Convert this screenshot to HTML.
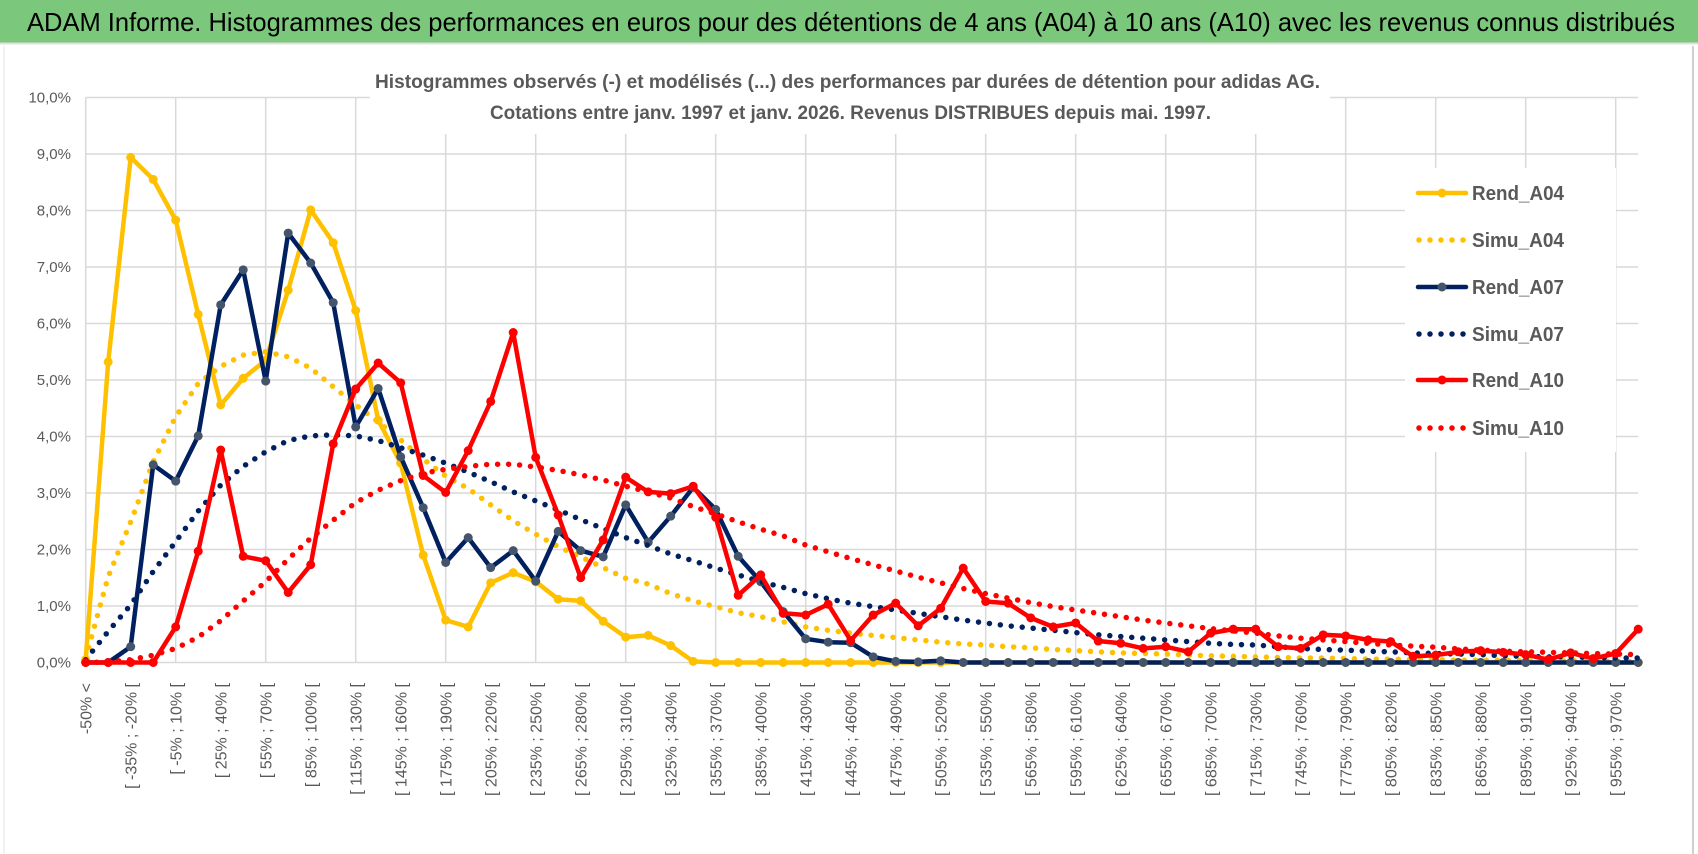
<!DOCTYPE html>
<html><head><meta charset="utf-8"><style>
html,body{margin:0;padding:0;background:#fff;}
svg{display:block;font-family:"Liberation Sans Narrow","Liberation Sans",sans-serif;}
</style></head><body>
<svg id="chart" width="1698" height="854" viewBox="0 0 1698 854" xmlns="http://www.w3.org/2000/svg">
<rect x="0" y="0" width="1698" height="854" fill="#fff"/>
<rect x="0" y="0" width="1698" height="43" fill="#7BC87C"/>
<line x1="0" y1="43.5" x2="1698" y2="43.5" stroke="#e0e0e0" stroke-width="2"/>
<text x="27" y="31" font-size="26" fill="#000" textLength="1648" lengthAdjust="spacingAndGlyphs">ADAM Informe. Histogrammes des performances en euros pour des détentions de 4 ans (A04) à 10 ans (A10) avec les revenus connus distribués</text>
<line x1="1693" y1="46" x2="1693" y2="854" stroke="#bfbfbf" stroke-width="1.5"/>
<line x1="4" y1="46" x2="4" y2="854" stroke="#e6e6e6" stroke-width="1"/>
<g id="grid"></g>
<rect x="370" y="64" width="960" height="70" fill="#fff"/>
<rect x="1405" y="168" width="211" height="284" fill="#fff"/>
<g id="yaxis"></g>
<g id="xaxis"></g>
<g id="series"></g>
<text x="375" y="88" font-size="19" font-weight="bold" fill="#595959" textLength="945" lengthAdjust="spacingAndGlyphs">Histogrammes observés (-) et modélisés (...) des performances par durées de détention pour adidas AG.</text>
<text x="490" y="119" font-size="19" font-weight="bold" fill="#595959" textLength="721" lengthAdjust="spacingAndGlyphs">Cotations entre janv. 1997 et janv. 2026. Revenus DISTRIBUES depuis mai. 1997.</text>
<g id="legend"></g>
</svg>
<script>
const rendA04 = [0.05,5.32,8.94,8.55,7.83,6.16,4.56,5.03,5.35,6.59,8.01,7.43,6.23,4.29,3.53,1.90,0.75,0.63,1.41,1.59,1.43,1.12,1.09,0.73,0.45,0.48,0.30,0.02,0,0,0,0,0,0,0,0,0,0,0,0,0,0,0,0,0,0,0,0,0,0,0,0,0,0,0,0,0,0,0,0,0,0,0,0,0,0,0,0,0,0];
const simuA04 = [0.08,1.52,2.49,3.55,4.35,4.94,5.24,5.44,5.50,5.41,5.21,4.88,4.56,4.26,3.94,3.60,3.30,3.08,2.79,2.51,2.27,2.05,1.87,1.68,1.49,1.39,1.22,1.09,0.99,0.88,0.81,0.72,0.63,0.57,0.52,0.48,0.44,0.40,0.36,0.33,0.31,0.28,0.26,0.23,0.21,0.19,0.17,0.16,0.15,0.13,0.12,0.11,0.10,0.09,0.08,0.08,0.07,0.06,0.06,0.05,0.05,0.04,0.04,0.04,0.03,0.03,0.03,0.03,0.02,0.02];
const rendA07 = [0,0,0.28,3.50,3.21,4.01,6.33,6.95,4.98,7.60,7.07,6.37,4.17,4.85,3.64,2.74,1.77,2.21,1.68,1.98,1.44,2.32,1.98,1.87,2.79,2.13,2.59,3.10,2.71,1.88,1.43,0.90,0.42,0.36,0.35,0.10,0.02,0.01,0.03,0,0,0,0,0,0,0,0,0,0,0,0,0,0,0,0,0,0,0,0,0,0,0,0,0,0,0,0,0,0,0];
const simuA07 = [0.05,0.55,1.02,1.61,2.14,2.68,3.14,3.47,3.73,3.93,4.01,4.03,4.01,3.93,3.80,3.67,3.53,3.37,3.20,3.02,2.86,2.70,2.53,2.37,2.21,2.07,1.92,1.80,1.67,1.55,1.43,1.33,1.22,1.13,1.05,0.99,0.93,0.87,0.81,0.75,0.70,0.65,0.61,0.57,0.53,0.49,0.46,0.43,0.40,0.37,0.34,0.32,0.31,0.28,0.25,0.23,0.22,0.20,0.19,0.17,0.16,0.15,0.14,0.12,0.11,0.10,0.10,0.09,0.08,0.08];
const rendA10 = [0,0,0,0,0.63,1.97,3.76,1.88,1.80,1.24,1.73,3.87,4.84,5.30,4.95,3.31,3.01,3.75,4.62,5.84,3.63,2.61,1.50,2.17,3.28,3.02,2.99,3.12,2.57,1.19,1.55,0.87,0.84,1.03,0.39,0.84,1.05,0.65,0.96,1.67,1.08,1.05,0.79,0.63,0.70,0.38,0.34,0.25,0.28,0.19,0.52,0.59,0.59,0.28,0.25,0.49,0.47,0.40,0.37,0.11,0.13,0.19,0.21,0.18,0.14,0.05,0.17,0.07,0.16,0.59];
const simuA10 = [0,0.01,0.05,0.13,0.25,0.45,0.74,1.09,1.43,1.83,2.20,2.52,2.83,3.05,3.22,3.35,3.42,3.47,3.51,3.51,3.46,3.40,3.32,3.23,3.12,3.02,2.91,2.76,2.63,2.49,2.36,2.24,2.08,1.96,1.84,1.73,1.62,1.51,1.41,1.31,1.22,1.14,1.06,0.99,0.93,0.87,0.81,0.75,0.70,0.65,0.60,0.56,0.52,0.47,0.43,0.40,0.37,0.34,0.31,0.29,0.27,0.24,0.22,0.20,0.19,0.18,0.17,0.16,0.15,0.14];
const yTicks = [0,1,2,3,4,5,6,7,8,9,10];
const seriesNames = ["Rend_A04","Simu_A04","Rend_A07","Simu_A07","Rend_A10","Simu_A10"];

const NS = "http://www.w3.org/2000/svg";
const N = rendA04.length;
function catLabel(i){
  if(i===0) return "-50% <";
  const a=-50+15*(i-1), b=a+15;
  return "[ "+a+"% ; "+b+"% [";
}
const categories = Array.from({length:N},(_, i)=>catLabel(i));
const X0=85.7, DX=22.5, Y0=662.5, DY=56.5;
function xs(i){return X0+DX*i;}
function ys(v){return Y0-DY*v;}
function mk(tag,attrs,parent){const e=document.createElementNS(NS,tag);for(const k in attrs)e.setAttribute(k,attrs[k]);parent.appendChild(e);return e;}

const grid=document.getElementById('grid');
const xEnd=xs(N-1);
yTicks.forEach(t=>{
  const l=mk('line',{x1:X0,x2:xEnd,y1:ys(t),y2:ys(t),stroke:'#d9d9d9','stroke-width':1.5},grid);
  
  
});
for(let i=0;i<N;i+=4){
  const l=mk('line',{x1:xs(i),x2:xs(i),y1:ys(10),y2:ys(0),stroke:'#d9d9d9','stroke-width':1.5},grid);
  
  
}
const yaxis=document.getElementById('yaxis');
yTicks.forEach(t=>{
  const tx=mk('text',{x:71,y:ys(t)+5,'font-size':15,fill:'#595959','text-anchor':'end'},yaxis);
  tx.textContent=t.toFixed(1).replace('.',',')+'%';
  
  
});
const xaxis=document.getElementById('xaxis');
for(let i=0;i<N;i+=2){
  const tx=mk('text',{x:0,y:0,'font-size':16,fill:'#595959','text-anchor':'end',transform:'translate('+(xs(i)+6)+',683) rotate(-90)'},xaxis);
  tx.textContent=categories[i];
  
  
}
const series=document.getElementById('series');
function pts(arr){return arr.map((v,i)=>xs(i).toFixed(1)+','+ys(v).toFixed(1)).join(' ');}
function solid(arr,color,mcolor,name){
  const g=mk('g',{},series);
  
  
  const p=mk('polyline',{points:pts(arr),fill:'none',stroke:color,'stroke-width':4.5,'stroke-linejoin':'round','stroke-linecap':'round'},g);
  
  
  arr.forEach((v,i)=>{
    const c=mk('circle',{cx:xs(i),cy:ys(v),r:4.5,fill:mcolor},g);
    
    
  });
}
function dotted(arr,color,name){
  const p=mk('polyline',{points:pts(arr),fill:'none',stroke:color,'stroke-width':5.5,'stroke-dasharray':'0 11','stroke-linecap':'round','stroke-linejoin':'round'},series);
  
  
}
solid(rendA04,'#FFC000','#FFC000','rend-a04');
dotted(simuA04,'#FFC000','simu-a04');
solid(rendA07,'#002060','#44546A','rend-a07');
dotted(simuA07,'#002060','simu-a07');
solid(rendA10,'#FF0000','#FF0000','rend-a10');
dotted(simuA10,'#FF0000','simu-a10');

const legend=document.getElementById('legend');
const lcolors=['#FFC000','#FFC000','#002060','#002060','#FF0000','#FF0000'];
const lmark=['#FFC000',null,'#44546A',null,'#FF0000',null];
const ly=[193,240,287,334,380,428];
seriesNames.forEach((n,k)=>{
  const g=mk('g',{},legend);
  
  
  if(lmark[k]){
    mk('line',{x1:1418,x2:1466,y1:ly[k],y2:ly[k],stroke:lcolors[k],'stroke-width':4.5,'stroke-linecap':'round'},g);
    mk('circle',{cx:1442,cy:ly[k],r:4.5,fill:lmark[k]},g);
  } else {
    mk('line',{x1:1419,x2:1466,y1:ly[k],y2:ly[k],stroke:lcolors[k],'stroke-width':5.5,'stroke-dasharray':'0 11','stroke-linecap':'round'},g);
  }
  const t=mk('text',{x:1472,y:ly[k]+7,'font-size':20,'font-weight':'bold',fill:'#595959',textLength:92,lengthAdjust:'spacingAndGlyphs'},g);
  t.textContent=n;
});
</script>
</body></html>
